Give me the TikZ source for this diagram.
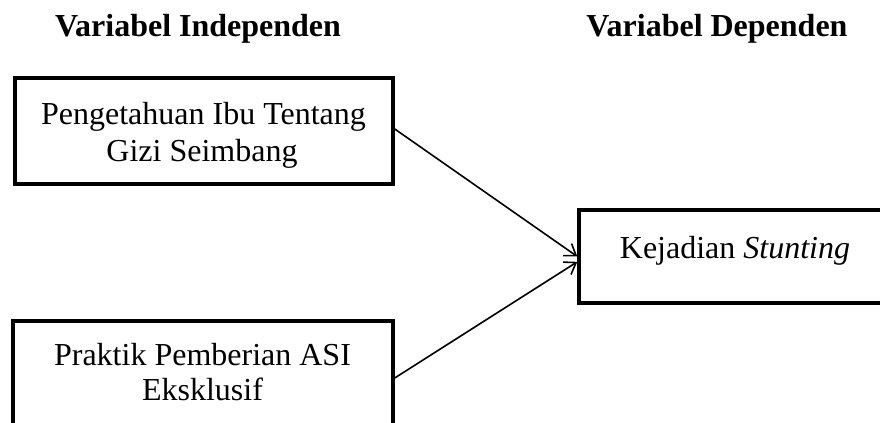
\documentclass[tikz,border=0pt]{standalone}
\usepackage{fontspec}
\setmainfont{Liberation Serif}
\usetikzlibrary{arrows.meta}
\begin{document}
\begin{tikzpicture}[x=0.75pt,y=-0.75pt,
  box/.style={draw, line width=2.6pt, inner sep=0pt},
  txt/.style={font=\fontsize{24}{28}\selectfont, anchor=base, inner sep=0pt},
  ttl/.style={font=\fontsize{24}{28}\selectfont\bfseries, anchor=base, inner sep=0pt},
  conn/.style={line width=1.2pt, -{Straight Barb[length=8pt,width=11pt]}}]
\useasboundingbox (0,0) rectangle (880,423);
\clip (0,0) rectangle (880,423);
% titles
\node[ttl] (t1) at (198,37) {Variabel Independen};
\node[ttl] (t2) at (717,37) {Variabel Dependen};
% boxes
\node[box, minimum width=283.5pt, minimum height=79.5pt] (ind1) at (204,131) {};
\node[box, minimum width=285pt, minimum height=79.5pt] (ind2) at (203,374) {};
\node[box, minimum width=233.25pt, minimum height=69.75pt] (dep) at (734.5,256.5) {};
% texts
\node[txt] (a1) at (203.5,125) {Pengetahuan Ibu Tentang};
\node[txt] (a2) at (202,162) {Gizi Seimbang};
\node[txt] (b1) at (202.5,365) {Praktik Pemberian ASI};
\node[txt] (b2) at (202.5,400) {Eksklusif};
\node[txt] (c1) at (735,259) {Kejadian \textit{Stunting}};
% connectors
\draw[conn] ([yshift=1.5pt]ind1.east) -- ([yshift=0pt]dep.west);
\draw[conn] ([yshift=-3pt]ind2.east) -- ([yshift=-4pt]dep.west);
\end{tikzpicture}
\end{document}
